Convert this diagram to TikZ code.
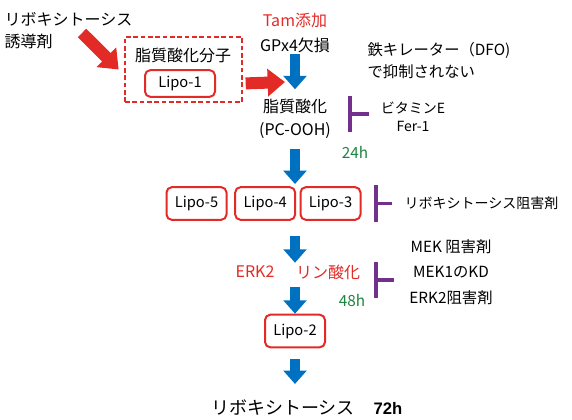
\documentclass[tikz,border=0pt]{standalone}
\usepackage{fontspec}
\setmainfont{Noto Sans CJK JP}
\newfontfamily\heavyfont{Liberation Sans}
\usetikzlibrary{positioning,arrows.meta}
\definecolor{lipored}{RGB}{226,42,38}
\definecolor{flowblue}{RGB}{0,112,192}
\definecolor{blockpurple}{RGB}{112,48,140}
\definecolor{timegreen}{RGB}{30,132,64}
\tikzset{
    lipobox/.style={draw=lipored, line width=1.5pt, rounded corners=4pt, align=center, minimum width=45pt, minimum height=24.5pt, inner sep=1pt, font=\fontsize{11}{13}\selectfont},
    lipidframe/.style={draw=lipored, line width=1.5pt, dash pattern=on 3.5pt off 2pt, minimum width=87.75pt, minimum height=48.75pt},
    flowtext/.style={align=center, inner sep=1pt, font=\fontsize{12}{17}\selectfont},
    notetext/.style={align=center, inner sep=1pt, font=\fontsize{10.5}{13.5}\selectfont},
    redtext/.style={flowtext, text=lipored},
    timetext/.style={inner sep=1pt, text=timegreen, font=\fontsize{11.5}{13}\selectfont},
    flowarrow/.style={draw=flowblue, line width=8pt, -{Triangle[length=10pt, width=17pt]}},
    inducearrow/.style={draw=lipored, line width=9pt, -{Triangle[length=13pt, width=20pt]}},
    blockbar/.style={fill=blockpurple, inner sep=0pt, minimum width=2.4pt},
    blockline/.style={draw=blockpurple, line width=2.4pt}
}

\begin{document}
\begin{tikzpicture}[x=0.75pt, y=-0.75pt]
    \useasboundingbox (0,0) rectangle (572,419);
    % inducer and lipid oxidation molecule
    \node[flowtext, align=left, anchor=west] (inducer) at (3,30.5) {リボキシトーシス\\誘導剤};
    \node[lipidframe] (lipidbox) at (183.5,69.5) {};
    \node[flowtext] (lipidtitle) at (183,55) {脂質酸化分子};
    \node[lipobox, minimum width=52.5pt, minimum height=20pt] (lipo1) at (180,83.5) {Lipo-1};
    \coordinate (inducetail) at (82,33);
    \coordinate (joint) at (285,82);

    % main column
    \node[redtext] (tam) at (295,20) {Tam添加};
    \node[flowtext] (gpx) at (295,45) {GPx4欠損};
    \node[flowtext] (lox) at (295,118.5) {脂質酸化\\(PC-OOH)};
    \node[lipobox] (lipo5) at (196.5,203.5) {Lipo-5};
    \node[lipobox, right=5pt of lipo5] (lipo4) {Lipo-4};
    \node[lipobox, right=2.5pt of lipo4] (lipo3) {Lipo-3};
    \coordinate (rowtop) at (295,184);
    \coordinate (rowbot) at (295,221);
    \node[redtext] (erk) at (255,272) {ERK2};
    \node[redtext] (phos) at (328,272) {リン酸化};
    \coordinate (phosgap) at (295,272);
    \node[lipobox] (lipo2) at (295,331) {Lipo-2};
    \node[inner sep=1pt, font=\fontsize{13.5}{15}\selectfont] (lipoxy) at (283,408) {リボキシトーシス};
    \node[inner sep=1pt, font=\heavyfont\bfseries\fontsize{12.5}{14}\selectfont] (final72) at (388,408) {72h};
    \node[timetext] (t24) at (355,152) {24h};
    \node[timetext] (t48) at (352,300) {48h};

    % notes and inhibitors
    \node[flowtext, align=left, anchor=west, font=\fontsize{11.5}{16.5}\selectfont] (dfo) at (366,61) {鉄キレーター（DFO)\\で抑制されない};
    \node[notetext] (vitamin) at (413,117) {ビタミンE\\Fer-1};
    \node[notetext, anchor=west] (lipoinhib) at (403,203) {リボキシトーシス阻害剤};
    \node[notetext, font=\fontsize{11.5}{19}\selectfont] (mek) at (451,272) {MEK 阻害剤\\MEK1のKD\\ERK2阻害剤};
    \node[blockbar, minimum height=27pt] (bar1) at (350,114) {};
    \node[blockbar, minimum height=27.5pt] (bar2) at (376,203.5) {};
    \node[blockbar, minimum height=27pt] (bar3) at (376,280) {};

    \draw[inducearrow] (inducetail) -- ([xshift=-4pt]lipidbox.west);
    \draw[inducearrow, shorten <=2pt] (lipidbox.east |- lipo1) -- (joint);
    \draw[flowarrow, shorten >=6pt] (gpx) -- (lox);
    \draw[flowarrow, shorten <=7pt] (lox) -- (rowtop);
    \draw[flowarrow, shorten <=11pt, shorten >=7pt] (rowbot) -- (phosgap);
    \draw[flowarrow, shorten <=11pt] (phosgap) -- (lipo2);
    \draw[flowarrow, shorten <=8pt, shorten >=11pt] (lipo2) -- (lipoxy.north -| lipo2);
    \draw[blockline, shorten >=8pt] (bar1) -- (bar1 -| vitamin.west);
    \draw[blockline, shorten >=8pt] (bar2) -- (bar2 -| lipoinhib.west);
    \draw[blockline, shorten >=10pt] (bar3) -- (bar3 -| mek.west);
\end{tikzpicture}
\end{document}
